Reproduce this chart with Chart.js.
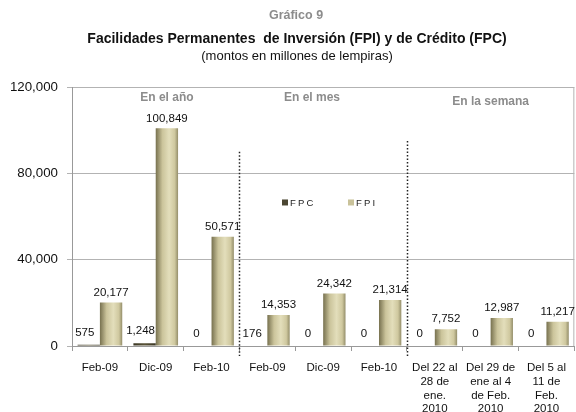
<!DOCTYPE html>
<html>
<head>
<meta charset="utf-8">
<script src="https://cdn.jsdelivr.net/npm/chart.js@4.4.1/dist/chart.umd.min.js"></script>
<style>
html,body{margin:0;padding:0;background:#fff;}
#wrap{width:576px;height:412px;position:relative;}
</style>
</head>
<body>
<div id="wrap"><canvas id="c" width="576" height="412"></canvas></div>
<script>
const categories = ['Feb-09','Dic-09','Feb-10','Feb-09','Dic-09','Feb-10',
  ['Del 22 al','28 de','ene.','2010'],
  ['Del 29 de','ene al 4','de Feb.','2010'],
  ['Del 5 al','11 de','Feb.','2010']];
const fpcValues = [575, 1248, 0, 176, 0, 0, 0, 0, 0];
const fpiValues = [20177, 100849, 50571, 14353, 24342, 21314, 7752, 12987, 11217];
const yTicks = [0, 40000, 80000, 120000];
const sections = ['En el año', 'En el mes', 'En la semana'];
const seriesNames = ['FPC', 'FPI'];

const FONT = "'Liberation Sans', Arial, sans-serif";
const fmt = v => v.toLocaleString('en-US');

function barGradient(ctx, x0, x1, stops) {
  const g = ctx.createLinearGradient(x0, 0, x1, 0);
  stops.forEach(s => g.addColorStop(s[0], s[1]));
  return g;
}
const fpiStops = [[0,'#77714f'],[0.3,'#cbc49b'],[0.6,'#e3debb'],[0.85,'#cfc89f'],[1,'#948e6a']];
const fpcStops = [[0,'#3a3624'],[0.5,'#5a5439'],[1,'#3a3624']];

const decoPlugin = {
  id: 'deco',
  beforeDatasetsDraw(chart) {
    const ctx = chart.ctx;
    chart.data.datasets.forEach((ds, di) => {
      const meta = chart.getDatasetMeta(di);
      meta.data.forEach(el => {
        const w = el.width;
        el.options.backgroundColor = barGradient(ctx, el.x - w/2, el.x + w/2, di === 0 ? fpcStops : fpiStops);
      });
    });
  },
  afterDatasetsDraw(chart) {
    const ctx = chart.ctx;
    const xs = chart.scales.x, ys = chart.scales.y;
    const ca = chart.chartArea;
    ctx.save();
    // right border
    ctx.strokeStyle = '#b3b3b3';
    ctx.lineWidth = 1;
    ctx.beginPath();
    ctx.moveTo(ca.right - 0.5, ca.top);
    ctx.lineTo(ca.right - 0.5, ca.bottom);
    ctx.stroke();
    // dotted separators
    ctx.strokeStyle = '#222';
    ctx.lineWidth = 1.5;
    ctx.setLineDash([1.5, 2]);
    const seps = [[2, 90000], [5, 95000]];
    seps.forEach(s => {
      const x = Math.round((xs.getPixelForValue(s[0]) + xs.getPixelForValue(s[0] + 1)) / 2) + 0.5;
      ctx.beginPath();
      ctx.moveTo(x, ys.getPixelForValue(s[1]));
      ctx.lineTo(x, ca.bottom + 10);
      ctx.stroke();
    });
    ctx.setLineDash([]);
    // data labels
    ctx.fillStyle = '#111';
    ctx.font = "11.5px " + FONT;
    ctx.textAlign = 'center';
    ctx.textBaseline = 'middle';
    const m0 = chart.getDatasetMeta(0), m1 = chart.getDatasetMeta(1);
    m0.data.forEach((el, i) => {
      ctx.fillText(fmt(fpcValues[i]), el.x - 4, el.y - 12);
    });
    m1.data.forEach((el, i) => {
      ctx.fillText(fmt(fpiValues[i]), el.x, el.y - 10);
    });
    // section labels
    ctx.fillStyle = '#8c8c8c';
    ctx.font = "bold 12px " + FONT;
    const secPos = [[1.2, 115000], [3.8, 115000], [7, 113000]];
    sections.forEach((t, i) => {
      ctx.fillText(t, xs.getPixelForValue(secPos[i][0]), ys.getPixelForValue(secPos[i][1]) );
    });
    // legend
    ctx.font = "9.5px " + FONT;
    ctx.textAlign = 'left';
    if ('letterSpacing' in ctx) ctx.letterSpacing = '2.2px';
    const legCols = ['#4b4632', '#c9c29a'];
    const legX = [282, 348];
    const legY = ys.getPixelForValue(66500);
    seriesNames.forEach((n, i) => {
      ctx.fillStyle = legCols[i];
      ctx.fillRect(legX[i], legY - 3, 6, 6);
      ctx.fillStyle = '#222';
      ctx.fillText(n, legX[i] + 8, legY + 0.5);
    });
    if ('letterSpacing' in ctx) ctx.letterSpacing = '0px';
    ctx.restore();
  },
  afterDraw(chart) {
    const ctx = chart.ctx;
    ctx.save();
    ctx.textAlign = 'center';
    ctx.textBaseline = 'middle';
    ctx.fillStyle = '#8c8c8c';
    ctx.font = "bold 12.5px " + FONT;
    ctx.fillText('Gráfico 9', 296, 16);
    ctx.fillStyle = '#111';
    ctx.font = "bold 14px " + FONT;
    ctx.fillText('Facilidades Permanentes  de Inversión (FPI) y de Crédito (FPC)', 297, 39);
    ctx.font = "13px " + FONT;
    ctx.fillText('(montos en millones de lempiras)', 297, 56);
    ctx.restore();
  }
};

new Chart(document.getElementById('c'), {
  type: 'bar',
  data: {
    labels: categories,
    datasets: [
      { label: seriesNames[0], data: fpcValues, backgroundColor: () => '#4b4632', borderWidth: 0 },
      { label: seriesNames[1], data: fpiValues, backgroundColor: () => '#cbc49b', borderWidth: 0 }
    ]
  },
  options: {
    responsive: false,
    animation: false,
    devicePixelRatio: 1,
    layout: { padding: { top: 87, right: 1, left: 0, bottom: 0 } },
    datasets: { bar: { categoryPercentage: 0.8, barPercentage: 1.0 } },
    plugins: { legend: { display: false }, tooltip: { enabled: false }, title: { display: false } },
    scales: {
      x: {
        grid: { display: true, drawOnChartArea: false, tickLength: 5, color: '#999', offset: true },
        border: { color: '#999' },
        ticks: { color: '#111', font: { family: FONT, size: 11.5 }, padding: 10, maxRotation: 0, autoSkip: false },
        afterFit(s) { s.height = 412 - 346 - 0; }
      },
      y: {
        min: 0, max: 120000,
        afterBuildTicks(s) { s.ticks = yTicks.map(v => ({ value: v })); },
        grid: { color: '#b3b3b3', tickLength: 5 },
        border: { color: '#999' },
        ticks: { color: '#111', font: { family: FONT, size: 13.3 }, padding: 9, callback: v => fmt(v) },
        afterFit(s) { s.width = 72; }
      }
    }
  },
  plugins: [decoPlugin]
});
</script>
</body>
</html>
